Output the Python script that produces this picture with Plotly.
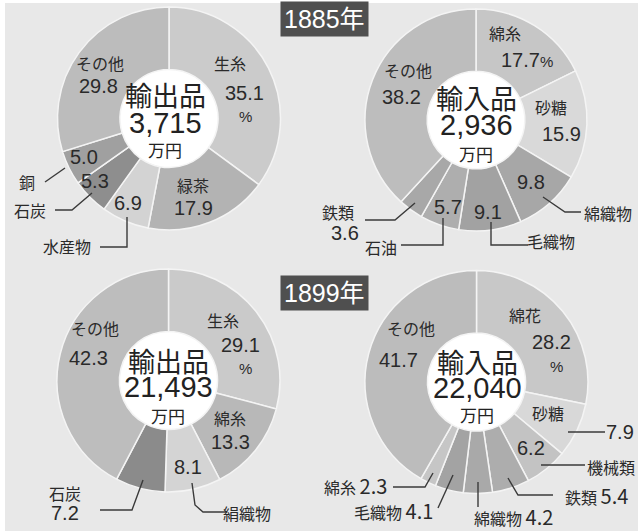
import math
import plotly.graph_objects as go

W, H = 638, 531

# ---------------- data ----------------
years = ["1885年", "1899年"]
kinds = ["輸出品", "輸入品", "輸出品", "輸入品"]
totals = ["3,715", "2,936", "21,493", "22,040"]
unit = "万円"

exp1885_labels = ["生糸", "緑茶", "水産物", "石炭", "銅", "その他"]
exp1885_values = [35.1, 17.9, 6.9, 5.3, 5.0, 29.8]

imp1885_labels = ["綿糸", "砂糖", "綿織物", "毛織物", "石油", "鉄類", "その他"]
imp1885_values = [17.7, 15.9, 9.8, 9.1, 5.7, 3.6, 38.2]

exp1899_labels = ["生糸", "綿糸", "絹織物", "石炭", "その他"]
exp1899_values = [29.1, 13.3, 8.1, 7.2, 42.3]

imp1899_labels = ["綿花", "砂糖", "機械類", "鉄類", "綿織物", "毛織物", "綿糸", "その他"]
imp1899_values = [28.2, 7.9, 6.2, 5.4, 4.2, 4.1, 2.3, 41.7]

# ---------------- styles ----------------
colors = [
    ["#cbcbcb", "#b3b3b3", "#d3d3d3", "#8e8e8e", "#a0a0a0", "#bcbcbc"],
    ["#c6c6c6", "#d9d9d9", "#a7a7a7", "#a2a2a2", "#aeaeae", "#a8a8a8", "#bdbdbd"],
    ["#cacaca", "#b8b8b8", "#d4d4d4", "#8b8b8b", "#bdbdbd"],
    ["#c8c8c8", "#d8d8d8", "#c3c3c3", "#adadad", "#a9a9a9", "#a3a3a3", "#c6c6c6", "#bcbcbc"],
]
# pie geometry in pixels: (cx, cy, R)
geom = [(169, 118.5, 111.5), (476, 120, 111), (168.5, 380.5, 111.5), (476.5, 382, 111.5)]
HOLE = 0.44
BG = "#e8e8e8"
TXT = "#2a2a2a"
FONT = "Liberation Sans, Noto Sans CJK JP, sans-serif"
CJK = "Noto Sans CJK JP, sans-serif"
NAME_SIZE = 16
NUM_SIZE = 20

# label layout per chart: slice index -> list of (kind, x, y)
# kind: "n" name, "v" value, "p" percent sign, "vp" value%, "nv" name + value
label_layout = [
    {0: [("n", 230, 63), ("v", 244, 93), ("p", 245, 117)],
     1: [("n", 193, 185), ("v", 193, 208)],
     2: [("v", 128, 203), ("n", 67, 246)],
     3: [("v", 95, 181), ("n", 30, 210)],
     4: [("v", 84, 157), ("n", 27, 182)],
     5: [("n", 100, 63), ("v", 98, 86)]},
    {0: [("n", 505, 33), ("vp", 527, 60)],
     1: [("n", 551, 107), ("v", 561, 134)],
     2: [("v", 531, 182), ("n", 608, 213)],
     3: [("v", 488, 212), ("n", 551, 241)],
     4: [("v", 448, 207), ("n", 381, 247)],
     5: [("n", 338, 212), ("v", 345, 233)],
     6: [("n", 408, 70), ("v", 401, 97)]},
    {0: [("n", 223, 320), ("v", 240, 345), ("p", 245, 368)],
     1: [("n", 230, 418), ("v", 230, 442)],
     2: [("v", 188, 467), ("n", 247, 513)],
     3: [("n", 65, 493), ("v", 65, 513)],
     4: [("n", 95, 328), ("v", 88, 358)]},
    {0: [("n", 525, 315), ("v", 551, 342), ("p", 556, 366)],
     1: [("n", 548, 413), ("v", 620, 432)],
     2: [("v", 531, 448), ("n", 611, 467)],
     3: [("nv", 596, 495)],
     4: [("nv", 513, 516)],
     5: [("nv", 393, 510)],
     6: [("nv", 355, 485)],
     7: [("n", 411, 328), ("v", 398, 360)]},
]

# leader lines (pixel polylines)
leaders = [
    [[(127, 217), (127, 247), (100, 247)],
     [(92, 193), (72, 210), (55, 210)],
     [(65, 168), (45, 182)]],
    [[(543, 197), (565, 212), (581, 212)],
     [(491, 222), (491, 245), (528, 245)],
     [(443, 218), (443, 245), (401, 245)],
     [(415, 203), (395, 220), (365, 220)]],
    [[(192, 483), (195, 505), (203, 512), (227, 512)],
     [(143, 480), (132, 510), (100, 510)]],
    [[(568, 432), (605, 432)],
     [(541, 465), (585, 465)],
     [(508, 478), (518, 495), (553, 495)],
     [(478, 482), (478, 507)],
     [(453, 475), (438, 508)],
     [(433, 473), (425, 487), (393, 487)]],
]

center_pos = [  # x, y of kind, y of total, y of unit
    (165, 95, 123, 149),
    (476, 97, 125, 153),
    (168, 360, 387, 415),
    (477, 361, 388, 414),
]
year_pos = [(324, 19), (324, 293)]

all_labels = [exp1885_labels, imp1885_labels, exp1899_labels, imp1899_labels]
all_values = [exp1885_values, imp1885_values, exp1899_values, imp1899_values]


def px(x):
    return x / W


def py(y):
    return 1 - y / H


fig = go.Figure()
shapes = [dict(type="rect", xref="paper", yref="paper", x0=px(5), x1=1, y0=0, y1=py(3),
               fillcolor=BG, line=dict(width=0), layer="below")]
annotations = []

for i in range(4):
    cx, cy, R = geom[i]
    fig.add_trace(go.Pie(
        labels=all_labels[i], values=all_values[i], sort=False,
        direction="clockwise", rotation=0, hole=HOLE,
        textinfo="none", hoverinfo="label+value", showlegend=False,
        marker=dict(colors=colors[i], line=dict(color="#f4f4f4", width=1.5)),
        domain=dict(x=[px(cx - R), px(cx + R)], y=[py(cy + R), py(cy - R)]),
    ))
    r = HOLE * R
    shapes.append(dict(type="circle", xref="paper", yref="paper",
                       x0=px(cx - r), x1=px(cx + r), y0=py(cy + r), y1=py(cy - r),
                       fillcolor="white", line=dict(width=0), layer="below"))
    # centre texts
    x, y1, y2, y3 = center_pos[i]
    annotations.append(dict(x=px(x), y=py(y1), text=kinds[i], font=dict(family=CJK, size=27, color="#222")))
    annotations.append(dict(x=px(x), y=py(y2), text=totals[i], font=dict(family=FONT, size=29, color="#222")))
    annotations.append(dict(x=px(x), y=py(y3), text=unit, font=dict(family=CJK, size=17, color="#222")))
    # slice labels
    for k, items in label_layout[i].items():
        name = all_labels[i][k]
        val = all_values[i][k]
        for kind, lx, ly in items:
            if kind == "n":
                t, f = name, dict(family=CJK, size=NAME_SIZE, color=TXT)
            elif kind == "v":
                t, f = f"{val}", dict(family=FONT, size=NUM_SIZE, color=TXT)
            elif kind == "p":
                t, f = "%", dict(family=FONT, size=15, color=TXT)
            elif kind == "vp":
                t, f = f"{val}<span style='font-size:15px'>%</span>", dict(family=FONT, size=NUM_SIZE, color=TXT)
            else:
                t = f"{name} <span style='font-size:{NUM_SIZE}px'>{val}</span>"
                f = dict(family=CJK, size=NAME_SIZE, color=TXT)
            annotations.append(dict(x=px(lx), y=py(ly), text=t, font=f))
    for pts in leaders[i]:
        path = "M " + " L ".join(f"{px(a):.5f},{py(b):.5f}" for a, b in pts)
        shapes.append(dict(type="path", xref="paper", yref="paper", path=path,
                           line=dict(color="#3a3a3a", width=1.4), layer="above"))

for (x, y), yr in zip(year_pos, years):
    annotations.append(dict(x=px(x), y=py(y), text=yr, bgcolor="#4f4f4f", borderpad=3,
                            font=dict(family=FONT, size=25, color="white")))

for a in annotations:
    a.update(xref="paper", yref="paper", showarrow=False, xanchor="center", yanchor="middle")

fig.update_layout(width=W, height=H, margin=dict(l=0, r=0, t=0, b=0),
                  paper_bgcolor="white", plot_bgcolor="white",
                  shapes=shapes, annotations=annotations)

fig.write_html("out.html", config={"displayModeBar": False},
               post_script="document.body.style.margin='0';document.body.style.overflow='hidden';")
